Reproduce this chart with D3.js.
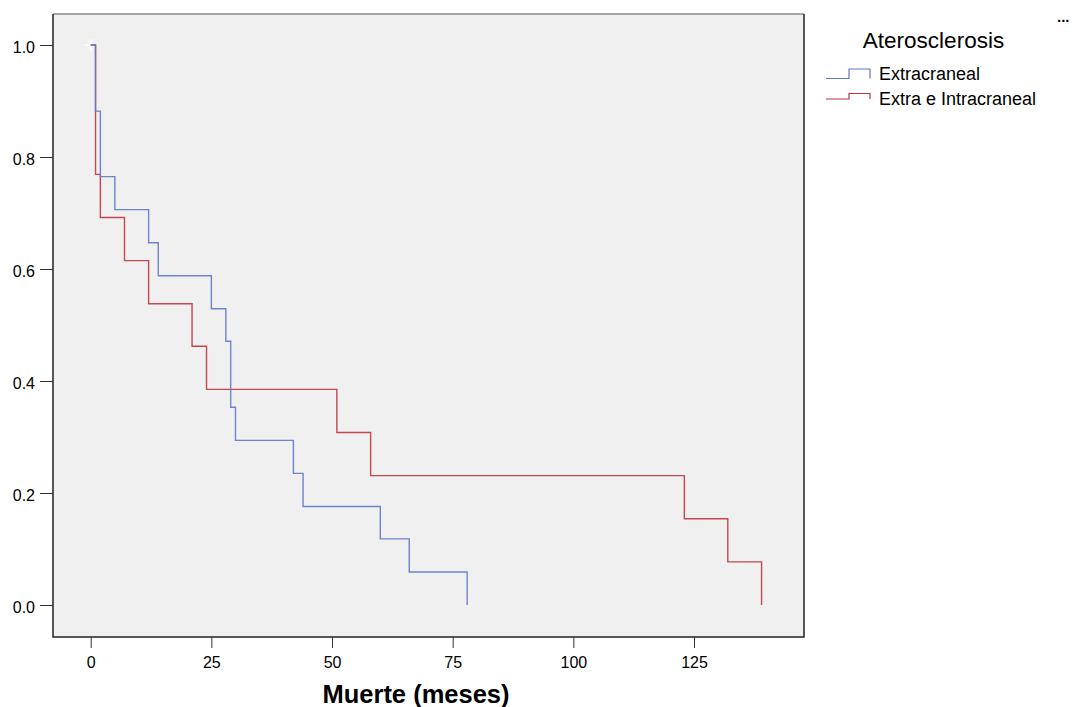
<!DOCTYPE html>
<html lang="es">
<head>
  <meta charset="UTF-8" />
  <title>Supervivencia por Aterosclerosis</title>
  <script src="https://d3js.org/d3.v7.min.js"></script>
  <style>
    body { margin: 0; padding: 0; background: #fff; font-family: Arial, "Liberation Sans", sans-serif; }
    svg { display: block; }
    .tick text { font-size: 16px; fill: #000; }
    .tick line { stroke: #333; }
  </style>
</head>
<body>
<svg width="1077" height="707"></svg>
<script>
  // Kaplan-Meier steps: event times (meses) and survival after each drop
  const extraTimes = [0, 1, 2, 5, 12, 14, 25, 28, 29, 30, 42, 44, 60, 66, 78];
  const extraSurv  = [1.0, 0.882, 0.765, 0.706, 0.647, 0.588, 0.529, 0.471, 0.353, 0.294, 0.235, 0.176, 0.118, 0.059, 0.0];

  const intraTimes = [0, 1, 2, 7, 12, 21, 24, 51, 58, 123, 132, 139];
  const intraSurv  = [1.0, 0.769, 0.692, 0.615, 0.538, 0.462, 0.385, 0.308, 0.231, 0.154, 0.077, 0.0];

  const seriesNames = ["Extracraneal", "Extra e Intracraneal"];
  const seriesColors = ["#5f78c8", "#c0343e"];
  const xTicks = [0, 25, 50, 75, 100, 125];
  const yTicks = [0.0, 0.2, 0.4, 0.6, 0.8, 1.0];

  const svg = d3.select("svg");
  const L = 53, T = 14, R = 804, B = 637;

  const x = d3.scaleLinear().domain([0, 125]).range([90.7, 694]);
  const y = d3.scaleLinear().domain([0, 1]).range([605, 45]);

  // plot background + frame
  svg.append("rect").attr("x", L).attr("y", T).attr("width", R - L).attr("height", B - T)
    .attr("fill", "#f0f0f0");
  svg.append("line").attr("x1", L).attr("x2", R).attr("y1", T).attr("y2", T)
    .attr("stroke", "#888").attr("stroke-width", 1.5);
  svg.append("path").attr("d", `M${L},${T} V${B} H${R} V${T}`)
    .attr("fill", "none").attr("stroke", "#222").attr("stroke-width", 1.5);

  // axes
  const xAxis = svg.append("g").attr("transform", `translate(0,${B})`)
    .call(d3.axisBottom(x).tickValues(xTicks).tickSize(11).tickFormat(d3.format("d")));
  const yAxis = svg.append("g").attr("transform", `translate(${L},0)`)
    .call(d3.axisLeft(y).tickValues(yTicks).tickSize(13).tickPadding(5).tickFormat(d3.format(".1f")));
  [xAxis, yAxis].forEach(a => { a.select(".domain").remove(); a.selectAll("text").attr("font-family", "Arial, 'Liberation Sans', sans-serif"); });
  xAxis.selectAll("text").attr("y", 31).attr("dy", 0);
  yAxis.selectAll("text").attr("dy", "0.48em");

  svg.append("text").attr("x", 416).attr("y", 703).attr("text-anchor", "middle")
    .attr("font-size", 25.5).attr("font-weight", "bold").text("Muerte (meses)");

  // censor mark at start
  svg.append("path").attr("d", `M${x(0) - 6},${y(1)} h12 M${x(0)},${y(1) - 6} v12`)
    .attr("stroke", "#fbfbfb").attr("stroke-width", 2);

  // survival curves
  const stepLine = d3.line().x(d => x(d[0])).y(d => y(d[1])).curve(d3.curveStepAfter);
  const curves = [
    d3.zip(extraTimes, extraSurv),
    d3.zip(intraTimes, intraSurv)
  ];
  [1, 0].forEach(i => {
    const pts = curves[i].slice();
    pts.push([pts[pts.length - 1][0], 0]);
    svg.append("path").attr("d", stepLine(pts))
      .attr("fill", "none").attr("stroke", seriesColors[i]).attr("stroke-width", 1.4)
      .attr("opacity", 0.9);
  });

  // legend
  svg.append("text").attr("x", 933.5).attr("y", 48).attr("text-anchor", "middle")
    .attr("font-size", 22.5).text("Aterosclerosis");
  const symTop = [69, 93.5], symBot = [78.5, 99];
  seriesNames.forEach((n, i) => {
    const base = 80 + i * 25;
    svg.append("path").attr("d", `M826,${symBot[i]} H849 V${symTop[i]} H870 V${symBot[i]}`)
      .attr("fill", "none").attr("stroke", seriesColors[i]).attr("stroke-width", 1.2);
    svg.append("text").attr("x", 879).attr("y", base).attr("font-size", 18).text(n);
  });

  svg.append("text").attr("x", 1057).attr("y", 22).attr("font-size", 15).attr("font-weight", "bold").text("...");
</script>
</body>
</html>
